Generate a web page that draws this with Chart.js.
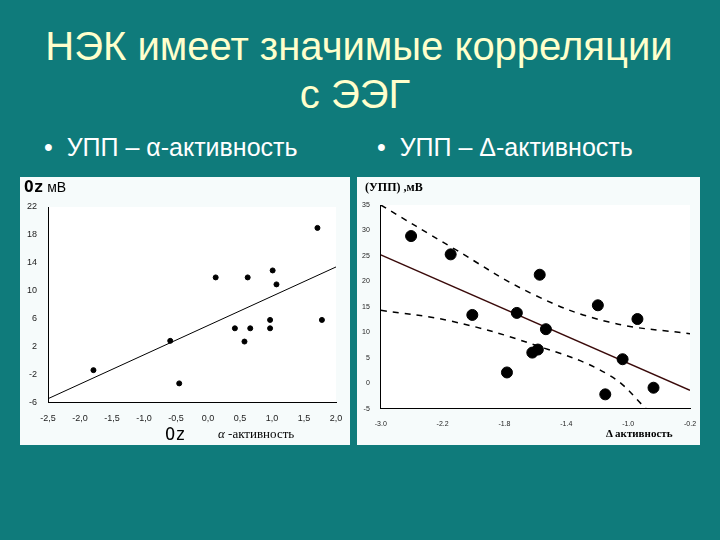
<!DOCTYPE html>
<html><head><meta charset="utf-8">
<script src="https://cdn.jsdelivr.net/npm/chart.js@4"></script>
<style>
body{margin:0;width:720px;height:540px;background:#0f7b7b;position:relative;overflow:hidden;font-family:"Liberation Sans",Arial,sans-serif}
.t{position:absolute;color:#ffffcc;font-size:40px;width:720px;text-align:center;white-space:nowrap}
.b{position:absolute;color:#fff;font-size:25px;top:133px;white-space:nowrap}
.box{position:absolute;background:#f6fbfb}
.lbl{position:absolute;color:#000;font-family:"Liberation Serif",serif}
</style></head><body>
<div class="t" style="top:24px;left:-1px">НЭК имеет значимые корреляции</div>
<div class="t" style="top:72px;left:-5px">с ЭЭГ</div>
<div class="b" style="left:44px">•&nbsp;&nbsp;УПП – α-активность</div>
<div class="b" style="left:377px">•&nbsp;&nbsp;УПП – Δ-активность</div>
<div class="box" style="left:20px;top:177px;width:330px;height:268px"><canvas id="c1" width="330" height="268"></canvas></div>
<div class="box" style="left:357px;top:177px;width:343px;height:268px"><canvas id="c2" width="343" height="268"></canvas></div>
<div class="lbl" style="left:24px;top:177px;font-family:'DejaVu Sans Mono',monospace;font-size:16px;font-weight:bold">Oz<span style="font-family:'Liberation Sans';font-size:14px;font-weight:normal"> мB</span></div>
<div class="lbl" style="left:165px;top:424px;font-family:'DejaVu Sans Mono',monospace;font-size:17px">Oz</div>
<div class="lbl" style="left:218px;top:426px;font-size:13px"><i>α</i> -активность</div>
<div class="lbl" style="left:365px;top:180px;font-size:12px;font-weight:bold">(УПП) ,мB</div>
<div class="lbl" style="left:606px;top:427px;font-size:11px;font-weight:bold">Δ активность</div>
<script>
const alphaX=[-1.79,-0.59,-0.45,0.12,0.42,0.57,0.62,0.66,0.97,0.97,1.01,1.07,1.71,1.78];
const alphaY=[-1.4,2.8,-3.3,11.9,4.6,2.7,11.9,4.6,5.8,4.6,12.9,10.9,19.0,5.8];
const alphaFitX=[-2.5,2.0], alphaFitY=[-5.5,13.4];
const deltaX=[0.49,1.13,1.48,2.04,2.20,2.45,2.54,2.57,2.67,3.51,3.63,3.91,4.15,4.41];
const deltaY=[28.9,25.3,13.4,2.1,13.8,6.0,6.6,21.3,10.6,15.3,-2.2,4.7,12.6,-0.9];
const deltaTickLabels=["-3.0","-2.2","-1.8","-1.4","-1.0","-0.2"];
const fitX=[0,5], fitY=[25.2,-1.4];
const upX=[0,1.13,2.49,3.69,5], upY=[35,26.8,17.3,12.0,9.7];
const loX=[0,1.13,2.49,3.69,4.34], loY=[14.3,12.2,7.5,1.6,-5.6];
const pts=(xs,ys)=>xs.map((x,i)=>({x,y:ys[i]}));
const bg={id:'bg',beforeDraw(c){const a=c.chartArea,g=c.ctx;g.save();g.fillStyle='#fff';g.fillRect(a.left,a.top,a.right-a.left,a.bottom-a.top);g.restore();}};
const tk={color:'#222',font:{size:9,family:'Liberation Sans'}};
new Chart(document.getElementById('c1'),{type:'scatter',plugins:[bg],
data:{datasets:[
{data:pts(alphaX,alphaY),pointRadius:2.5,backgroundColor:'#000',borderColor:'#000'},
{data:pts(alphaFitX,alphaFitY),showLine:true,pointRadius:0,borderColor:'#000',borderWidth:1}]},
options:{animation:false,responsive:false,layout:{padding:{top:30,right:14,bottom:18,left:4}},plugins:{legend:{display:false},tooltip:{enabled:false}},
scales:{x:{type:'linear',min:-2.5,max:2.0,border:{color:'#000'},grid:{display:false,drawTicks:true},ticks:{...tk,stepSize:0.5,callback:v=>v.toFixed(1).replace('.',',')}},
y:{min:-6,max:22,border:{color:'#000'},grid:{display:false},ticks:{...tk,stepSize:4}}}}});
new Chart(document.getElementById('c2'),{type:'scatter',plugins:[bg],
data:{datasets:[
{data:pts(deltaX,deltaY),pointRadius:5.5,backgroundColor:'#000',borderColor:'#000'},
{data:pts(fitX,fitY),showLine:true,pointRadius:0,borderColor:'#3a0a0a',borderWidth:1.5},
{data:pts(upX,upY),showLine:true,tension:0.4,pointRadius:0,borderColor:'#000',borderWidth:1.5,borderDash:[6,6]},
{data:pts(loX,loY),showLine:true,tension:0.4,pointRadius:0,borderColor:'#000',borderWidth:1.5,borderDash:[6,6]}]},
options:{animation:false,responsive:false,layout:{padding:{top:28,right:10,bottom:14,left:2}},plugins:{legend:{display:false},tooltip:{enabled:false}},
scales:{x:{type:'linear',min:0,max:5,border:{color:'#000'},grid:{display:false},ticks:{...tk,font:{size:7},stepSize:1,callback:v=>deltaTickLabels[v]}},
y:{min:-5,max:35,border:{color:'#000'},grid:{display:false},ticks:{...tk,font:{size:7},stepSize:5}}}}});
</script></body></html>
